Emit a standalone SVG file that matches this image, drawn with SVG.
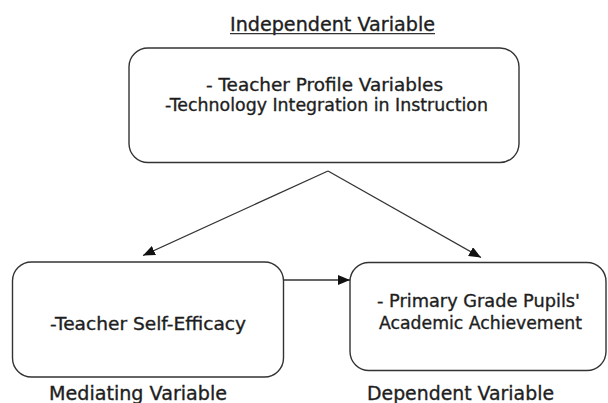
<svg xmlns="http://www.w3.org/2000/svg" width="608" height="403" viewBox="0 0 608 403">
<style>
.box{fill:#fff;stroke:#333;stroke-width:1.4}
.t{font-family:"DejaVu Sans",sans-serif;fill:#1e1e1e;stroke:#1e1e1e;stroke-width:0.35;text-anchor:middle}
.b{font-size:17.5px}
.lab{font-size:19px}
.c{fill:none;stroke:#333;stroke-width:1.3}
</style>
<defs>
<marker id="ah" viewBox="0 0 12 10" refX="12" refY="5" markerWidth="12" markerHeight="10" markerUnits="userSpaceOnUse" orient="auto">
<path d="M0,0 L12,5 L0,10 Z" fill="#111"/>
</marker>
</defs>
<rect width="608" height="403" fill="#fff"/>
<g id="title">
<text class="t lab" x="332.5" y="31" textLength="205" lengthAdjust="spacingAndGlyphs">Independent Variable</text>
<line x1="230" y1="33.6" x2="435" y2="33.6" stroke="#333" stroke-width="1.3"/>
</g>
<g id="independent">
<rect class="box" x="129" y="48" width="390" height="114.5" rx="19" ry="19"/>
<text class="t b" x="324.5" y="90.5" textLength="237" lengthAdjust="spacingAndGlyphs">- Teacher Profile Variables</text>
<text class="t b" x="326.5" y="110.5" textLength="323" lengthAdjust="spacingAndGlyphs">-Technology Integration in Instruction</text>
</g>
<g id="mediating">
<rect class="box" x="12.5" y="262" width="271" height="115" rx="19" ry="19"/>
<text class="t b" x="148" y="330" textLength="196" lengthAdjust="spacingAndGlyphs">-Teacher Self-Efficacy</text>
<text class="t lab" x="138" y="400" textLength="178" lengthAdjust="spacingAndGlyphs">Mediating Variable</text>
</g>
<g id="dependent">
<rect class="box" x="350" y="262.5" width="256" height="108" rx="19" ry="19"/>
<text class="t b" x="478.5" y="307" textLength="203" lengthAdjust="spacingAndGlyphs">- Primary Grade Pupils'</text>
<text class="t b" x="480.5" y="329" textLength="203" lengthAdjust="spacingAndGlyphs">Academic Achievement</text>
<text class="t lab" x="460.5" y="400" textLength="187" lengthAdjust="spacingAndGlyphs">Dependent Variable</text>
</g>
<g id="connectors">
<line class="c" x1="328" y1="171" x2="143" y2="255.5" marker-end="url(#ah)"/>
<line class="c" x1="328" y1="171" x2="481" y2="257.5" marker-end="url(#ah)"/>
<line class="c" x1="283.5" y1="280" x2="350" y2="280" marker-end="url(#ah)"/>
</g>
</svg>
